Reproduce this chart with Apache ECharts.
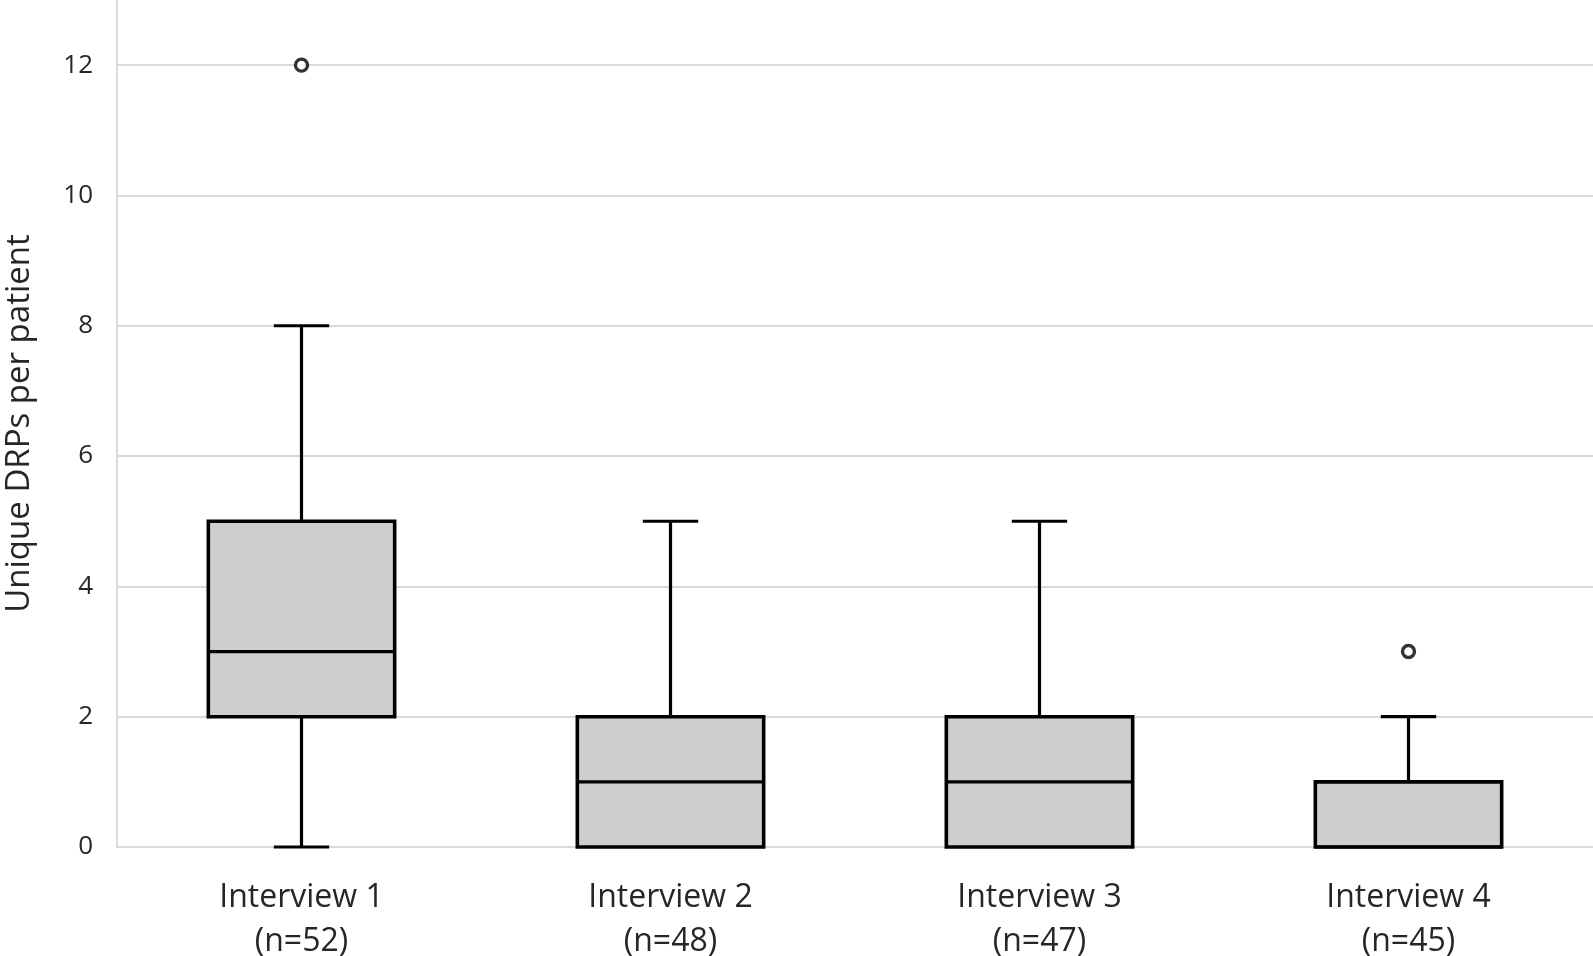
<!DOCTYPE html>
<html>
<head>
<meta charset="utf-8">
<script src="https://cdn.jsdelivr.net/npm/echarts@6/dist/echarts.min.js"></script>
<style>
html,body{margin:0;padding:0;background:#fff;}
#chart{width:1593px;height:956px;}
</style>
</head>
<body>
<div id="chart"></div>
<script>
const categories = ['Interview 1\n(n=52)', 'Interview 2\n(n=48)', 'Interview 3\n(n=47)', 'Interview 4\n(n=45)'];
const whiskerLow = [0, 0, 0, 0];
const q1 = [2, 0, 0, 0];
const median = [3, 1, 1, 0];
const q3 = [5, 2, 2, 1];
const whiskerHigh = [8, 5, 5, 2];
const outliers = [[0, 12], [3, 3]];
const yTicks = { min: 0, max: 13, interval: 2 };

const boxData = categories.map((c, i) => [i, whiskerLow[i], q1[i], median[i], q3[i], whiskerHigh[i]]);

const chart = echarts.init(document.getElementById('chart'));
const FONT = '"Open Sans", "Noto Sans", sans-serif';
const TEXT = '#262626';
const GRID = '#d9d9d9';

function renderBox(params, api) {
  const idx = api.value(0);
  const band = api.size([1, 0])[0];
  const boxW = band * 0.505;
  const capW = band * 0.15;
  const pLow = api.coord([idx, api.value(1)]);
  const pQ1 = api.coord([idx, api.value(2)]);
  const pMed = api.coord([idx, api.value(3)]);
  const pQ3 = api.coord([idx, api.value(4)]);
  const pHigh = api.coord([idx, api.value(5)]);
  const x = pQ1[0];
  const lineStyle = { stroke: '#000', lineWidth: 3.2, fill: null };
  const children = [];
  if (api.value(5) > api.value(4)) {
    children.push({ type: 'line', shape: { x1: x, y1: pQ3[1], x2: x, y2: pHigh[1] }, style: lineStyle });
    children.push({ type: 'line', shape: { x1: x - capW / 2, y1: pHigh[1], x2: x + capW / 2, y2: pHigh[1] }, style: lineStyle });
  }
  if (api.value(2) > api.value(1)) {
    children.push({ type: 'line', shape: { x1: x, y1: pQ1[1], x2: x, y2: pLow[1] }, style: lineStyle });
    children.push({ type: 'line', shape: { x1: x - capW / 2, y1: pLow[1], x2: x + capW / 2, y2: pLow[1] }, style: lineStyle });
  }
  children.push({
    type: 'rect',
    shape: { x: x - boxW / 2, y: pQ3[1], width: boxW, height: pQ1[1] - pQ3[1] },
    style: { fill: '#cecece', stroke: '#000', lineWidth: 3.6 }
  });
  children.push({ type: 'line', shape: { x1: x - boxW / 2, y1: pMed[1], x2: x + boxW / 2, y2: pMed[1] }, style: lineStyle });
  return { type: 'group', children: children };
}

chart.setOption({
  animation: false,
  backgroundColor: '#fff',
  grid: { left: 117, right: 0, top: 0, bottom: 109, containLabel: false, outerBoundsMode: 'none' },
  xAxis: {
    type: 'category',
    data: categories,
    boundaryGap: true,
    axisLine: { show: true, lineStyle: { color: GRID, width: 2 } },
    axisTick: { show: false },
    axisLabel: { color: TEXT, fontFamily: FONT, fontSize: 32, lineHeight: 44, margin: 29 },
    splitLine: { show: false }
  },
  yAxis: {
    type: 'value',
    min: yTicks.min,
    max: yTicks.max,
    interval: yTicks.interval,
    name: 'Unique DRPs per patient',
    nameLocation: 'middle',
    nameGap: 81,
    nameTextStyle: { color: TEXT, fontFamily: FONT, fontSize: 33 },
    axisLine: { show: true, lineStyle: { color: GRID, width: 2 } },
    axisTick: { show: false },
    axisLabel: { color: TEXT, fontFamily: FONT, fontSize: 26, margin: 24, showMaxLabel: false },
    splitLine: { show: true, showMaxLine: false, lineStyle: { color: GRID, width: 2 } }
  },
  series: [
    {
      type: 'custom',
      renderItem: renderBox,
      data: boxData,
      encode: { x: 0, y: [1, 2, 3, 4, 5] },
      z: 3
    },
    {
      type: 'scatter',
      data: outliers,
      symbol: 'circle',
      symbolSize: 12,
      itemStyle: { color: '#fff', borderColor: '#000', borderWidth: 3.4 },
      z: 4
    }
  ]
});
</script>
</body>
</html>
